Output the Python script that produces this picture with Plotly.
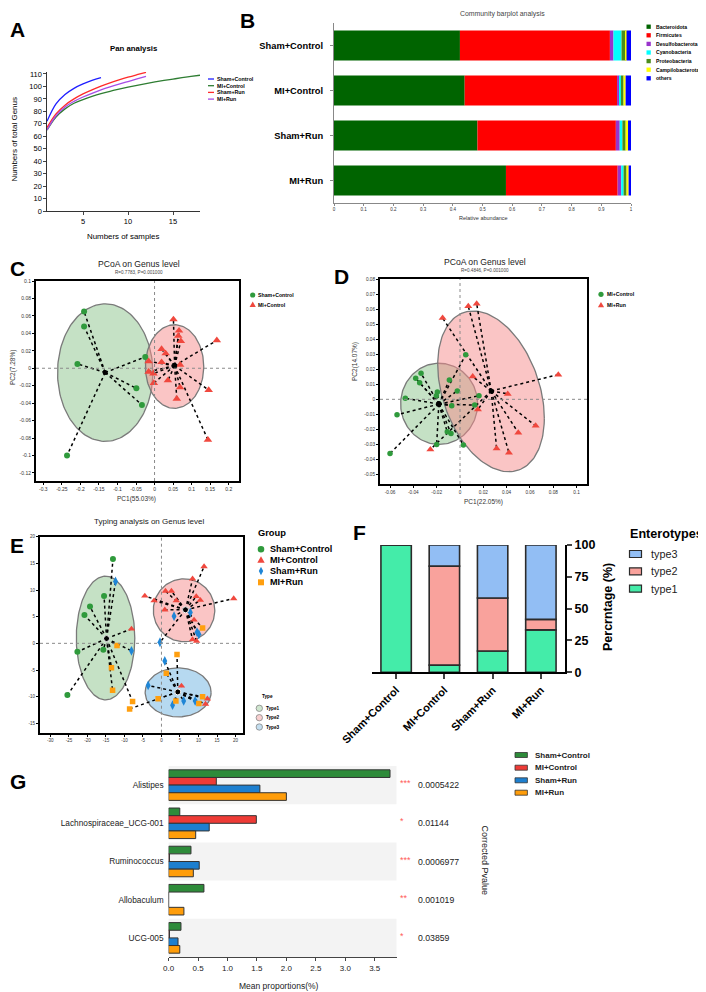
import numpy as np
import plotly.graph_objects as go

# The page body has an 8px margin, so the figure is drawn 8px in from the top-left corner.
OFF = 8
W, H = 706 - OFF, 992 - OFF
FONT = "Arial, 'Liberation Sans', Helvetica, sans-serif"


def px_x(p):
    return (p - OFF) / W


def px_y(p):
    return 1 - (p - OFF) / H


# ======================= DATA =======================
# ---- A : Pan analysis ----
pan_groups = ["Sham+Control", "MI+Control", "Sham+Run", "MI+Run"]
pan_colors = ["#1f1fff", "#2e7d32", "#ff2a2a", "#a64de6"]
pan_sham_control = [72, 86, 93.5, 98.5, 102, 104.8, 107]
pan_mi_control = [65, 75.5, 82, 86.5, 89.5, 92, 94.2, 96.1, 97.8, 99.4, 100.9, 102.3,
                  103.6, 104.8, 105.9, 107, 108, 109]
pan_sham_run = [67, 78, 85, 90, 94, 97.3, 100.2, 102.8, 105.2, 107.4, 109.4, 111.3]
pan_mi_run = [65, 76.5, 83.5, 88, 91.5, 94.5, 97.2, 99.6, 101.8, 103.9, 106, 108]

# ---- B : Community barplot ----
comm_samples = ["Sham+Control", "MI+Control", "Sham+Run", "MI+Run"]
phyla = ["Bacteroidota", "Firmicutes", "Desulfobacterota", "Cyanobacteria",
         "Proteobacteria", "Campilobacterota", "others"]
phyla_colors = ["#006400", "#ff0000", "#9933cc", "#00ffff", "#4c8c1c", "#ffff00", "#0000ff"]
bacteroidota = [0.424, 0.440, 0.483, 0.579]
firmicutes = [0.505, 0.513, 0.466, 0.376]
desulfobacterota = [0.012, 0.008, 0.013, 0.012]
cyanobacteria = [0.027, 0.005, 0.009, 0.008]
proteobacteria = [0.015, 0.009, 0.011, 0.010]
campilobacterota = [0.002, 0.007, 0.008, 0.007]
others = [0.015, 0.018, 0.010, 0.008]
b_ticks = [0, 0.1, 0.2, 0.3, 0.4, 0.5, 0.6, 0.7, 0.8, 0.9, 1]

# ---- C : PCoA Sham+Control vs MI+Control ----
c_groups = ["Sham+Control", "MI+Control"]
c_sham_control_x = [-0.190, -0.190, -0.208, -0.025, -0.049, -0.034, -0.236]
c_sham_control_y = [0.065, 0.048, 0.005, 0.013, -0.023, -0.042, -0.100]
c_mi_control_x = [0.051, 0.066, 0.064, 0.071, 0.168, 0.019, 0.030, -0.016, 0.019,
                  0.069, -0.016, -0.003, -0.002, 0.036, 0.069, 0.146, 0.060, 0.144]
c_mi_control_y = [0.056, 0.043, 0.037, 0.031, 0.032, 0.022, 0.017, 0.008, 0.007,
                  0.004, -0.004, -0.006, -0.017, -0.014, -0.022, -0.025, -0.035, -0.082]
c_ell_cx = [-0.133, 0.054]
c_ell_cy = [-0.005, 0.002]
c_ell_ux = [0.1286, 0.0787]
c_ell_uy = [0.0, 0.0]
c_ell_vx = [0.0, 0.0]
c_ell_vy = [0.0788, 0.0479]
c_xticks = [-0.3, -0.25, -0.2, -0.15, -0.1, -0.05, 0, 0.05, 0.1, 0.15, 0.2]
c_yticks = [0.1, 0.08, 0.06, 0.04, 0.02, 0, -0.02, -0.04, -0.06, -0.08, -0.1, -0.12]

# ---- D : PCoA MI+Control vs MI+Run ----
d_groups = ["MI+Control", "MI+Run"]
d_mi_control_x = [0.0049, -0.0334, -0.038, -0.0346, -0.0091, -0.0023, -0.0194, -0.0203,
                  -0.0469, 0.0163, -0.0071, 0.0126, -0.054, -0.0109, -0.0077, -0.020,
                  0.0029, -0.060]
d_mi_control_y = [0.0296, 0.0173, 0.014, 0.0111, 0.0129, 0.0056, 0.0049, 0.0024, 0.0007,
                  0.0024, -0.0042, -0.0038, -0.0102, -0.0216, -0.0227, -0.030, -0.0304,
                  -0.036]
d_mi_run_x = [0.0143, 0.0071, -0.0149, 0.0109, 0.0843, 0.0409, 0.0154, 0.0649, 0.050,
              0.0314, 0.042, -0.0254]
d_mi_run_y = [0.0636, 0.0618, 0.054, 0.0151, 0.0164, 0.0036, -0.0067, -0.0176, -0.0222,
              -0.0327, -0.0356, -0.0333]
d_ell_cx = [-0.0179, 0.0266]
d_ell_cy = [-0.003, 0.0053]
d_ell_ux = [0.033, 0.0457]
d_ell_uy = [0.0, -0.0178]
d_ell_vx = [0.0, 0.0]
d_ell_vy = [0.027, 0.0504]
d_xticks = [-0.06, -0.04, -0.02, 0, 0.02, 0.04, 0.06, 0.08, 0.1]
d_yticks = [0.08, 0.07, 0.06, 0.05, 0.04, 0.03, 0.02, 0.01, 0, -0.01, -0.02, -0.03,
            -0.04, -0.05]

# ---- E : Typing analysis ----
e_groups = ["Sham+Control", "MI+Control", "Sham+Run", "MI+Run"]
e_sham_control_x = [-13.1, -15.5, -19.3, -20.8, -22.7, -15.7, -25.4]
e_sham_control_y = [15.8, 8.9, 6.9, 5.3, -1.6, -1.2, -9.7]
e_sham_control_type = [1, 1, 1, 1, 1, 1, 1]
e_mi_control_x = [11.5, 8.4, -4.5, -2.0, 1.1, 2.7, 4.0, 9.4, 10.5, 19.5, 0.9, 8.8, 8.4,
                  9.5, -8.1, 5.4, 12.4, 11.9]
e_mi_control_y = [14.4, 12.1, 8.9, 8.0, 9.8, 9.8, 8.0, 8.8, 8.1, 8.4, 6.3, 4.4, 0.7,
                  0.4, 2.7, -8.0, -10.4, -11.4]
e_mi_control_type = [2, 2, 2, 2, 2, 2, 2, 2, 2, 2, 2, 2, 2, 2, 1, 3, 3, 3]
e_sham_run_x = [-12.4, -8.1, 7.8, 3.4, 9.6, 10.1, -0.4, 0.9, -3.6, 3.0, 6.0, 9.1]
e_sham_run_y = [11.6, -1.4, 5.8, 5.1, 2.1, 1.7, 0.2, -3.3, -7.9, -11.6, -10.8, -10.8]
e_sham_run_type = [1, 1, 2, 2, 2, 2, 2, 3, 3, 3, 3, 3]
e_mi_run_x = [-12.0, -13.5, -13.2, -7.8, 11.1, 4.2, 1.3, -0.9, 11.1, 10.1, 3.9, -8.6]
e_mi_run_y = [-0.4, -4.6, -8.8, -10.9, 2.9, -2.1, -5.6, -10.4, -10.0, -11.3, -10.8, -12.3]
e_mi_run_type = [1, 1, 1, 1, 2, 3, 3, 3, 3, 3, 3, 3]
e_types = ["Type1", "Type2", "Type3"]
e_ell_cx = [-15.1, 6.1, 4.5]
e_ell_cy = [1.0, 6.2, -9.2]
e_ell_rx = [7.9, 8.3, 8.9]
e_ell_ry = [11.6, 5.9, 4.6]
e_xticks = [-30, -25, -20, -15, -10, -5, 0, 5, 10, 15, 20]
e_yticks = [-15, -10, -5, 0, 5, 10, 15, 20]

# ---- F : Enterotypes ----
f_groups = ["Sham+Control", "MI+Control", "Sham+Run", "MI+Run"]
f_type1 = [100, 5.6, 16.7, 33.3]
f_type2 = [0, 77.8, 41.7, 8.3]
f_type3 = [0, 16.6, 41.6, 58.4]
f_ticks = [0, 25, 50, 75, 100]

# ---- G : Differential genera ----
g_genera = ["Alistipes", "Lachnospiraceae_UCG-001", "Ruminococcus", "Allobaculum", "UCG-005"]
g_sham_control = [3.76, 0.19, 0.38, 0.60, 0.21]
g_mi_control = [0.81, 1.49, 0.015, 0.0, 0.015]
g_sham_run = [1.55, 0.69, 0.52, 0.0, 0.16]
g_mi_run = [2.0, 0.46, 0.42, 0.26, 0.19]
g_pvalues = ["0.0005422", "0.01144", "0.0006977", "0.001019", "0.03859"]
g_stars = ["***", "*", "***", "**", "*"]
g_xticks = [0, 0.5, 1.0, 1.5, 2.0, 2.5, 3.0, 3.5]

# ======================= STYLE =======================
GREEN_M = "#2f9a3c"
RED_M = "#f0483e"
BLUE_M = "#1f86d6"
ORANGE_M = "#ff9f0f"
ELL_GREEN = "rgba(140,195,140,0.5)"
ELL_RED = "rgba(245,140,140,0.5)"
ELL_BLUE = "rgba(110,180,225,0.5)"

t = np.linspace(0, 2 * np.pi, 161)


def ellipse(cx, cy, ux, uy, vx, vy):
    return cx + ux * np.cos(t) + vx * np.sin(t), cy + uy * np.cos(t) + vy * np.sin(t)


def spokes(xs, ys, cx, cy):
    lx, ly = [], []
    for a, b in zip(xs, ys):
        lx += [cx, a, None]
        ly += [cy, b, None]
    return lx, ly


fig = go.Figure()

# ---------------- A ----------------
for name, vals, col in zip(pan_groups, [pan_sham_control, pan_mi_control, pan_sham_run, pan_mi_run],
                           pan_colors):
    fig.add_trace(go.Scatter(x=list(range(1, len(vals) + 1)), y=vals, mode="lines", name=name,
                             line=dict(color=col, width=1.3, shape="spline"),
                             xaxis="x", yaxis="y", hoverinfo="skip"))

# ---------------- B ----------------
b_series = [bacteroidota, firmicutes, desulfobacterota, cyanobacteria, proteobacteria,
            campilobacterota, others]
base = np.zeros(len(comm_samples))
for name, vals, col in zip(phyla, b_series, phyla_colors):
    fig.add_trace(go.Bar(y=comm_samples, x=vals, base=base.copy(), orientation="h", name=name,
                         marker=dict(color=col, line=dict(width=0)), width=0.667,
                         xaxis="x2", yaxis="y2"))
    base = base + np.array(vals)


# ---------------- C & D ----------------
def pcoa_panel(xa, ya, pts, ell, colors, symbols, sizes):
    for (cx, cy, ux, uy, vx, vy), fc in zip(zip(*ell), colors[1]):
        ex, ey = ellipse(cx, cy, ux, uy, vx, vy)
        fig.add_trace(go.Scatter(x=ex, y=ey, mode="lines", fill="toself", fillcolor=fc,
                                 line=dict(color="#7a7a7a", width=1.3),
                                 xaxis=xa, yaxis=ya, hoverinfo="skip"))
    cents = []
    for xs, ys in pts:
        cx, cy = float(np.mean(xs)), float(np.mean(ys))
        cents.append((cx, cy))
        lx, ly = spokes(xs, ys, cx, cy)
        fig.add_trace(go.Scatter(x=lx, y=ly, mode="lines",
                                 line=dict(color="black", width=1.5, dash="dot"),
                                 xaxis=xa, yaxis=ya, hoverinfo="skip"))
    for (xs, ys), col, sym, sz in zip(pts, colors[0], symbols, sizes):
        fig.add_trace(go.Scatter(x=xs, y=ys, mode="markers",
                                 marker=dict(color=col, symbol=sym, size=sz, line=dict(width=0)),
                                 xaxis=xa, yaxis=ya))
    fig.add_trace(go.Scatter(x=[c[0] for c in cents], y=[c[1] for c in cents], mode="markers",
                             marker=dict(color="black", size=5),
                             xaxis=xa, yaxis=ya, hoverinfo="skip"))


pcoa_panel("x3", "y3",
           [(c_sham_control_x, c_sham_control_y), (c_mi_control_x, c_mi_control_y)],
           (c_ell_cx, c_ell_cy, c_ell_ux, c_ell_uy, c_ell_vx, c_ell_vy),
           ([GREEN_M, RED_M], [ELL_GREEN, ELL_RED]), ["circle", "triangle-up"], [6, 7.5])
pcoa_panel("x4", "y4",
           [(d_mi_control_x, d_mi_control_y), (d_mi_run_x, d_mi_run_y)],
           (d_ell_cx, d_ell_cy, d_ell_ux, d_ell_uy, d_ell_vx, d_ell_vy),
           ([GREEN_M, RED_M], [ELL_GREEN, ELL_RED]), ["circle", "triangle-up"], [5.5, 7])

# ---------------- E ----------------
e_fill = [ELL_GREEN, ELL_RED, ELL_BLUE]
for cx, cy, rx, ry, fc in zip(e_ell_cx, e_ell_cy, e_ell_rx, e_ell_ry, e_fill):
    ex, ey = ellipse(cx, cy, rx, 0, 0, ry)
    fig.add_trace(go.Scatter(x=ex, y=ey, mode="lines", fill="toself", fillcolor=fc,
                             line=dict(color="#7a7a7a", width=1.3),
                             xaxis="x5", yaxis="y5", hoverinfo="skip"))
e_all_x = e_sham_control_x + e_mi_control_x + e_sham_run_x + e_mi_run_x
e_all_y = e_sham_control_y + e_mi_control_y + e_sham_run_y + e_mi_run_y
e_all_t = e_sham_control_type + e_mi_control_type + e_sham_run_type + e_mi_run_type
e_cents = []
for k in [1, 2, 3]:
    xs = [x for x, tt in zip(e_all_x, e_all_t) if tt == k]
    ys = [y for y, tt in zip(e_all_y, e_all_t) if tt == k]
    cx, cy = float(np.mean(xs)), float(np.mean(ys))
    e_cents.append((cx, cy))
    lx, ly = spokes(xs, ys, cx, cy)
    fig.add_trace(go.Scatter(x=lx, y=ly, mode="lines", line=dict(color="black", width=1.5, dash="dot"),
                             xaxis="x5", yaxis="y5", hoverinfo="skip"))
e_styles = [(GREEN_M, "circle", 6), (RED_M, "triangle-up", 6.5), (BLUE_M, "diamond-tall", 7),
            (ORANGE_M, "square", 5.5)]
for (xs, ys), (col, sym, sz) in zip([(e_sham_control_x, e_sham_control_y),
                                      (e_mi_control_x, e_mi_control_y),
                                      (e_sham_run_x, e_sham_run_y),
                                      (e_mi_run_x, e_mi_run_y)], e_styles):
    fig.add_trace(go.Scatter(x=xs, y=ys, mode="markers",
                             marker=dict(color=col, symbol=sym, size=sz, line=dict(width=0)),
                             xaxis="x5", yaxis="y5"))
fig.add_trace(go.Scatter(x=[c[0] for c in e_cents], y=[c[1] for c in e_cents], mode="markers",
                         marker=dict(color="black", size=6, line=dict(color="white", width=1)),
                         xaxis="x5", yaxis="y5", hoverinfo="skip"))

# ---------------- F ----------------
f_cols = ["#44eca9", "#f9a29c", "#92bef4"]
fbase = np.zeros(4)
for name, vals, col in zip(["type1", "type2", "type3"], [f_type1, f_type2, f_type3], f_cols):
    fig.add_trace(go.Bar(x=f_groups, y=vals, base=fbase.copy(), name=name, width=0.63,
                         marker=dict(color=col, line=dict(color="#2b2b2b", width=1.6)),
                         xaxis="x6", yaxis="y6"))
    fbase = fbase + np.array(vals)

# ---------------- G ----------------
g_cols = ["#2e8b3a", "#ee3b36", "#1d7fcf", "#ff9d0a"]
for i, (name, vals, col) in enumerate(zip(pan_groups, [g_sham_control, g_mi_control,
                                                       g_sham_run, g_mi_run], g_cols)):
    fig.add_trace(go.Bar(y=g_genera, x=vals, orientation="h", name=name, width=0.2,
                         offset=-0.4 + 0.2 * i,
                         marker=dict(color=col, line=dict(color="#333333", width=1)),
                         xaxis="x7", yaxis="y7"))


# ======================= AXES =======================
def dom_x(a, b):
    return [px_x(a), px_x(b)]


def dom_y(top, bottom):
    return [px_y(bottom), px_y(top)]


def fmt(v):
    return f"{v:g}"


box_common = dict(showline=True, linecolor="black", linewidth=2, mirror=True, ticks="outside",
                  ticklen=2, tickwidth=1, tickcolor="black", showgrid=False, zeroline=False,
                  automargin=False)

layout = dict(
    template="none",
    width=W, height=H, autosize=False, margin=dict(l=0, r=0, t=0, b=0, pad=0),
    paper_bgcolor="white", plot_bgcolor="rgba(0,0,0,0)", barmode="overlay", showlegend=False,
    font=dict(family=FONT, color="black"),
    # A
    xaxis=dict(domain=dom_x(47, 200), range=[1, 18], anchor="y", showline=True, linecolor="#333",
               linewidth=1.3, ticks="outside", ticklen=2.5, tickvals=[5, 10, 15], showgrid=False,
               zeroline=False, automargin=False, tickfont=dict(size=7.5)),
    yaxis=dict(domain=dom_y(72, 211), range=[0, 111.6], anchor="x", showline=True, linecolor="#333",
               linewidth=1.3, ticks="outside", ticklen=2.5,
               tickvals=[0, 10, 20, 30, 40, 50, 60, 70, 80, 90, 100, 110], showgrid=False,
               zeroline=False, automargin=False, tickfont=dict(size=7.5)),
    # B
    xaxis2=dict(domain=dom_x(334, 631), range=[0, 1], anchor="y2", showline=True, linecolor="#888",
                linewidth=1, ticks="outside", ticklen=2, tickcolor="#888", tickvals=b_ticks,
                ticktext=[fmt(v) for v in b_ticks], showgrid=False, zeroline=False,
                automargin=False, tickfont=dict(size=4.5, color="#333")),
    yaxis2=dict(domain=dom_y(23, 203), anchor="x2", type="category", autorange="reversed",
                showline=True, linecolor="#888", linewidth=1, ticks="outside", ticklen=3,
                tickcolor="#888", showgrid=False, zeroline=False, ticklabelstandoff=5,
                automargin=False, tickfont=dict(size=9.3, weight="bold")),
    # C
    xaxis3=dict(domain=dom_x(36, 239), range=[-0.3197, 0.2278], anchor="y3", tickvals=c_xticks,
                ticktext=[fmt(v) for v in c_xticks], tickfont=dict(size=5, color="#333"), **box_common),
    yaxis3=dict(domain=dom_y(281, 481), range=[-0.1292, 0.1], anchor="x3", tickvals=c_yticks,
                ticktext=[fmt(v) for v in c_yticks], tickfont=dict(size=5, color="#333"), **box_common),
    # D
    xaxis4=dict(domain=dom_x(380, 587), range=[-0.0686, 0.1089], anchor="y4", tickvals=d_xticks,
                ticktext=[fmt(v) for v in d_xticks], tickfont=dict(size=4.7, color="#333"), **box_common),
    yaxis4=dict(domain=dom_y(279, 484), range=[-0.0563, 0.08], anchor="x4", tickvals=d_yticks,
                ticktext=[fmt(v) for v in d_yticks], tickfont=dict(size=4.7, color="#333"), **box_common),
    # E
    xaxis5=dict(domain=dom_x(40, 243.3), range=[-32.8, 22.1], anchor="y5", tickvals=e_xticks,
                ticktext=[fmt(v) for v in e_xticks], tickfont=dict(size=4.5, color="#333"), **box_common),
    yaxis5=dict(domain=dom_y(536.7, 732.7), range=[-16.76, 20], anchor="x5", tickvals=e_yticks,
                ticktext=[fmt(v) for v in e_yticks], tickfont=dict(size=4.5, color="#333"), **box_common),
    # F
    xaxis6=dict(domain=dom_x(372, 565), anchor="y6", type="category", showline=True,
                linecolor="black", linewidth=2, ticks="outside", ticklen=5, tickwidth=2,
                tickangle=-45, showgrid=False, zeroline=False, automargin=False,
                tickfont=dict(size=11, weight="bold")),
    yaxis6=dict(domain=dom_y(545, 672.3), range=[0, 100], anchor="x6", side="right",
                showline=True, linecolor="black", linewidth=2, ticks="outside", ticklen=5,
                tickwidth=2, tickvals=f_ticks, showgrid=False, zeroline=False, automargin=False,
                tickfont=dict(size=12.5, weight="bold")),
    # G
    xaxis7=dict(domain=dom_x(168.6, 396.5), range=[0, 3.87], anchor="y7", showline=True,
                linecolor="#444", linewidth=1, ticks="outside", ticklen=3, tickcolor="#444",
                tickvals=g_xticks, ticktext=[f"{v:.1f}" for v in g_xticks], showgrid=False,
                zeroline=False, automargin=False, tickfont=dict(size=8, color="#222")),
    yaxis7=dict(domain=dom_y(766, 957), anchor="x7", type="category", autorange="reversed",
                showline=False, ticks="", showgrid=False, zeroline=False, ticklabelstandoff=4,
                automargin=False, tickfont=dict(size=8.3, color="#222")),
)

shapes = []
annotations = []


def ann(text, x, y, size, bold=False, color="black", xanchor="center", yanchor="middle",
        textangle=0):
    annotations.append(dict(text=f"<b>{text}</b>" if bold else text, x=px_x(x), y=px_y(y),
                            xref="paper", yref="paper", showarrow=False,
                            font=dict(size=size, color=color, family=FONT),
                            xanchor=xanchor, yanchor=yanchor, textangle=textangle, borderpad=0))


def rect(x0, x1, yc, h, fill, line="rgba(0,0,0,0)", lw=0):
    shapes.append(dict(type="rect", xref="paper", yref="paper", x0=px_x(x0), x1=px_x(x1),
                       y0=px_y(yc + h / 2), y1=px_y(yc - h / 2), fillcolor=fill,
                       line=dict(color=line, width=lw)))


def circ(xc, yc, r, fill, line="rgba(0,0,0,0)", lw=0):
    shapes.append(dict(type="circle", xref="paper", yref="paper", x0=px_x(xc - r), x1=px_x(xc + r),
                       y0=px_y(yc + r), y1=px_y(yc - r), fillcolor=fill,
                       line=dict(color=line, width=lw)))


def poly(points, fill):
    path = "M " + " L ".join(f"{px_x(a):.5f},{px_y(b):.5f}" for a, b in points) + " Z"
    shapes.append(dict(type="path", xref="paper", yref="paper", path=path, fillcolor=fill,
                       line=dict(width=0)))


# panel letters (left ones kept inside the drawable area)
for letter, x, y in [("A", 9, 30), ("C", 9, 268.5), ("E", 9, 545), ("G", 9, 781)]:
    ann(letter, x, y, 21, bold=True, xanchor="left")
for letter, x, y in [("B", 247.5, 20.5), ("D", 341, 276), ("F", 359, 532)]:
    ann(letter, x, y, 21, bold=True)

# ---- A texts ----
ann("Pan analysis", 134, 48.3, 7.8, bold=True)
ann("Numbers of total Genus", 13.5, 140, 8, textangle=-90)
ann("Numbers of samples", 123, 237, 7.9)
for i, (name, col) in enumerate(zip(pan_groups, pan_colors)):
    yy = 79 + i * 6.7
    shapes.append(dict(type="line", xref="paper", yref="paper", x0=px_x(208), x1=px_x(214),
                       y0=px_y(yy), y1=px_y(yy), line=dict(color=col, width=1.3)))
    ann(name, 215.5, yy, 5.3, bold=True, xanchor="left")

# ---- B texts ----
ann("Community barplot analysis", 502.5, 9, 6.9, color="#444", yanchor="top")
ann("Relative abundance", 483, 217.7, 5.5, color="#333")
for i, (name, col) in enumerate(zip(phyla, phyla_colors)):
    yy = 26.7 + i * 8.6
    rect(646.5, 650.8, yy, 4.3, col)
    ann(name, 654.5, yy, 5.1, bold=True, xanchor="left")

# ---- C texts ----
ann("PCoA on Genus level", 138.5, 264, 8.6, color="#222")
ann("R=0.7783, P=0.001000", 138.5, 272.3, 4.6, color="#444")
ann("PC1(55.03%)", 136.7, 499, 6.5, color="#333")
ann("PC2(7.28%)", 13, 368, 6.5, color="#333", textangle=-90)
circ(252.7, 295, 2.6, GREEN_M)
poly([(252.7, 301.6), (249.6, 306.9), (255.8, 306.9)], RED_M)
ann("Sham+Control", 257, 295, 5.2, bold=True, xanchor="left")
ann("MI+Control", 257, 304.7, 5.2, bold=True, xanchor="left")

# ---- D texts ----
ann("PCoA on Genus level", 485, 261.7, 8.6, color="#222")
ann("R=0.4846, P=0.001000", 485, 270.7, 4.6, color="#444")
ann("PC1(22.05%)", 483, 501.7, 6.5, color="#333")
ann("PC2(14.07%)", 355, 362, 6.5, color="#333", textangle=-90)
circ(601, 294.3, 2.6, GREEN_M)
poly([(601, 301.9), (597.9, 307.2), (604.1, 307.2)], RED_M)
ann("MI+Control", 605.5, 294.3, 5.2, bold=True, xanchor="left")
ann("MI+Run", 605.5, 305, 5.2, bold=True, xanchor="left")

# ---- E texts ----
ann("Typing analysis on Genus level", 149.3, 521.7, 8, color="#222")
ann("Group", 257, 533.3, 9.3, bold=True, xanchor="left")
e_leg_y = [549.3, 560, 571, 582.3]
circ(261, e_leg_y[0], 3.3, GREEN_M)
poly([(261, e_leg_y[1] - 3.8), (257.3, e_leg_y[1] + 2.8), (264.7, e_leg_y[1] + 2.8)], RED_M)
poly([(261, e_leg_y[2] - 4.3), (263.2, e_leg_y[2]), (261, e_leg_y[2] + 4.3),
      (258.8, e_leg_y[2])], BLUE_M)
rect(258, 264, e_leg_y[3], 6, ORANGE_M)
for name, yy in zip(e_groups, e_leg_y):
    ann(name, 269.3, yy, 9.1, bold=True, xanchor="left")
ann("Type", 261, 696.7, 4.7, bold=True, xanchor="left")
for name, yy, fc in zip(e_types, [708.3, 717.7, 727], ["#cfe6cf", "#f8cfcf", "#c3def0"]):
    circ(259.3, yy, 3.2, fc, line="#888", lw=0.8)
    ann(name, 264.5, yy, 4.7, bold=True, xanchor="left")

# ---- F texts ----
ann("Percrntage (%)", 608, 607, 12.5, bold=True, textangle=-90)
ann("Enterotypes", 629, 534.3, 12.6, bold=True, xanchor="left")
for name, yy, col in zip(["type3", "type2", "type1"], [554, 571.3, 588.7],
                         [f_cols[2], f_cols[1], f_cols[0]]):
    rect(629.5, 641.5, yy, 7, col, line="#2b2b2b", lw=1.2)
    ann(name, 650, yy, 10.8, xanchor="left", color="#222")

# ---- G texts ----
for i in range(0, len(g_genera), 2):
    shapes.append(dict(type="rect", xref="x7 domain", yref="y7", x0=0, x1=1, y0=i - 0.5,
                       y1=i + 0.5, fillcolor="#f3f3f3", line=dict(width=0), layer="below"))
for g, st, pv in zip(g_genera, g_stars, g_pvalues):
    annotations.append(dict(text=st, x=px_x(398), y=g, xref="paper", yref="y7", showarrow=False,
                            xanchor="left", yanchor="middle", yshift=2,
                            font=dict(size=9, color="#ff5a5a", family=FONT)))
    annotations.append(dict(text=pv, x=px_x(416), y=g, xref="paper", yref="y7", showarrow=False,
                            xanchor="left", yanchor="middle",
                            font=dict(size=8.7, color="#222", family=FONT)))
ann("Corrected Pvalue", 485, 860.5, 9, color="#222", textangle=90)
ann("Mean proportions(%)", 279, 985.5, 8.5, color="#222")
for name, yy, col in zip(pan_groups, [755, 767.7, 780.3, 792.7], g_cols):
    rect(515, 527.4, yy, 5, col, line="#333", lw=0.8)
    ann(name, 534, yy, 8, bold=True, xanchor="left", color="#222")

# zero reference lines in C, D, E
for xa, ya in [("x3", "y3"), ("x4", "y4"), ("x5", "y5")]:
    shapes.append(dict(type="line", xref=xa, yref=f"{ya} domain", x0=0, x1=0, y0=0, y1=1,
                       line=dict(color="#8a8a8a", width=1, dash="dot"), layer="above"))
    shapes.append(dict(type="line", xref=f"{xa} domain", yref=ya, x0=0, x1=1, y0=0, y1=0,
                       line=dict(color="#8a8a8a", width=1, dash="dot"), layer="above"))

layout["shapes"] = shapes
layout["annotations"] = annotations
fig.update_layout(**layout)
fig.write_html("out.html")
